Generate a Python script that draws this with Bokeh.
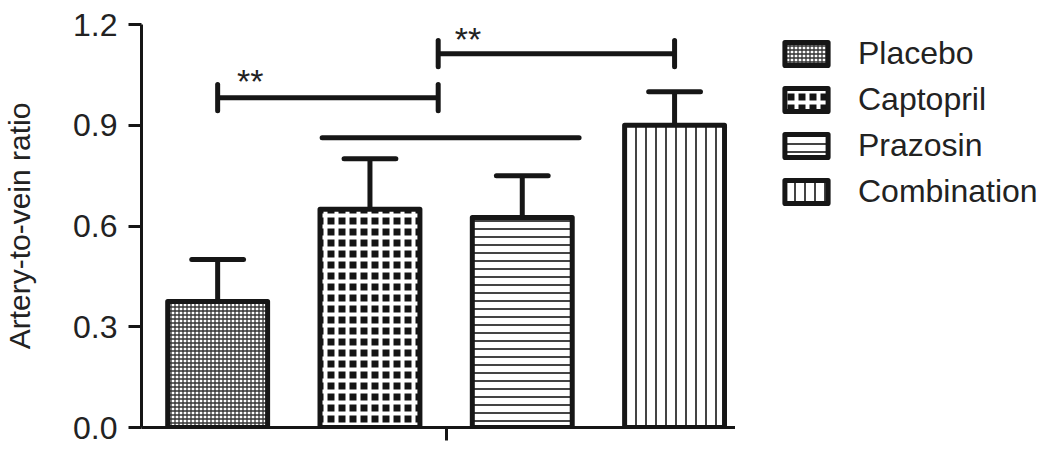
from bokeh.plotting import figure
from bokeh.layouts import row
from bokeh.models import (FixedTicker, PrintfTickFormatter, Legend, LegendItem, Range1d)
from bokeh.core.properties import value
from bokeh.embed import file_html
from bokeh.resources import INLINE

# ---------------- data ----------------
groups = ["Placebo", "Captopril", "Prazosin", "Combination"]
x_pos = [0.5, 1.5, 2.5, 3.5]
means = [0.375, 0.65, 0.625, 0.90]
sds = [0.125, 0.15, 0.125, 0.10]
y_ticks = [0.0, 0.3, 0.6, 0.9, 1.2]

# significance brackets (x_start, x_end, y)
br_x0 = [0.5, 1.948]
br_x1 = [1.948, 3.5]
br_y = [0.982, 1.113]
star_x = [0.714, 2.144]
star_y = [1.032, 1.158]
star_txt = ["**", "**"]
# plain comparison line
ln_x0 = [1.186]
ln_x1 = [2.873]
ln_y = [0.863]

INK = "#161616"
TXT = "#222222"
FONT = "Liberation Sans"

styles = [
    dict(fill_color="white", hatch_pattern="cross", hatch_color="#333333",
         hatch_scale=4, hatch_weight=1.3),
    dict(fill_color="#141414", hatch_pattern="cross", hatch_color="white",
         hatch_scale=11, hatch_weight=4),
    dict(fill_color="white", hatch_pattern="horizontal_line", hatch_color="#444444",
         hatch_scale=8, hatch_weight=2),
    dict(fill_color="white", hatch_pattern="vertical_line", hatch_color="#444444",
         hatch_scale=10, hatch_weight=2),
]

# ---------------- main plot ----------------
p = figure(width=735, height=453, output_backend="svg", toolbar_location=None,
           x_range=Range1d(0, 3.9), y_range=Range1d(0, 1.2),
           min_border_left=141, min_border_right=0,
           min_border_top=24, min_border_bottom=26)
p.outline_line_color = None
p.xgrid.visible = False
p.ygrid.visible = False
p.background_fill_color = "white"
p.border_fill_color = "white"

for i, g in enumerate(groups):
    p.vbar(x=[x_pos[i]], width=0.656, top=[means[i]], bottom=0,
           line_color=INK, line_width=5, line_join="round", **styles[i])

# error bars (upper only)
tops = [m + s for m, s in zip(means, sds)]
p.segment(x0=x_pos, x1=x_pos, y0=means, y1=tops, line_color=INK, line_width=5)
p.segment(x0=[x - 0.17 for x in x_pos], x1=[x + 0.17 for x in x_pos], y0=tops, y1=tops,
          line_color=INK, line_width=5, line_cap="round")

# significance brackets
p.segment(x0=br_x0, x1=br_x1, y0=br_y, y1=br_y, line_color=INK, line_width=5)
ends_x = br_x0 + br_x1
ends_y = br_y + br_y
p.segment(x0=ends_x, x1=ends_x, y0=[y - 0.039 for y in ends_y], y1=[y + 0.039 for y in ends_y],
          line_color=INK, line_width=5, line_cap="round")
p.segment(x0=ln_x0, x1=ln_x1, y0=ln_y, y1=ln_y, line_color=INK, line_width=5, line_cap="round")
p.text(x=star_x, y=star_y, text=star_txt, text_align="center", text_baseline="alphabetic",
       text_font=value(FONT), text_font_size="34px", text_color=TXT)

# axes
ya = p.yaxis[0]
ya.ticker = FixedTicker(ticks=y_ticks)
ya.formatter = PrintfTickFormatter(format="%.1f")
ya.axis_label = "Artery-to-vein ratio"
ya.axis_label_text_font = FONT
ya.axis_label_text_font_size = "30px"
ya.axis_label_text_font_style = "normal"
ya.axis_label_text_color = TXT
ya.axis_label_standoff = 34
ya.major_label_text_font = FONT
ya.major_label_text_font_size = "32px"
ya.major_label_text_color = TXT
ya.major_label_standoff = 11
ya.major_tick_out = 13
ya.major_tick_in = 0
ya.minor_tick_out = 0
ya.minor_tick_in = 0
ya.axis_line_width = 3
ya.major_tick_line_width = 3
ya.axis_line_color = INK
ya.major_tick_line_color = INK

xa = p.xaxis[0]
xa.ticker = FixedTicker(ticks=[2.0])
xa.major_label_text_font_size = "0px"
xa.major_label_standoff = 0
xa.major_tick_out = 13
xa.major_tick_in = 0
xa.minor_tick_out = 0
xa.minor_tick_in = 0
xa.axis_line_width = 3
xa.major_tick_line_width = 3
xa.axis_line_color = INK
xa.major_tick_line_color = INK

# ---------------- legend panel ----------------
# Same bars drawn at a tiny scale (very wide ranges) so they shrink to a speck that
# sits underneath the legend's opaque white box; only the legend swatches show.
q = figure(width=320, height=453, output_backend="svg", toolbar_location=None,
           x_range=Range1d(-200, 200), y_range=Range1d(-457, 143),
           x_axis_type=None, y_axis_type=None,
           min_border_left=33, min_border_right=0, min_border_top=24, min_border_bottom=26)
q.outline_line_color = None
q.xgrid.visible = False
q.ygrid.visible = False
q.background_fill_color = "white"
q.border_fill_color = "white"

leg_renderers = []
for i, g in enumerate(groups):
    r = q.vbar(x=[x_pos[i]], width=0.656, top=[means[i]], bottom=0,
               line_color=INK, line_width=5, line_join="round", **styles[i])
    leg_renderers.append(r)

legend = Legend(items=[LegendItem(label=g, renderers=[r]) for g, r in zip(groups, leg_renderers)],
                location="top_left", glyph_width=54, glyph_height=29, label_height=23,
                label_standoff=25, spacing=9, padding=0, margin=11,
                border_line_alpha=0, background_fill_color="white", background_fill_alpha=1.0,
                label_text_font=FONT, label_text_font_size="32px", label_text_color=TXT)
q.add_layout(legend, "center")

layout = row(p, q)
open("out.html", "w").write(file_html(layout, INLINE))
